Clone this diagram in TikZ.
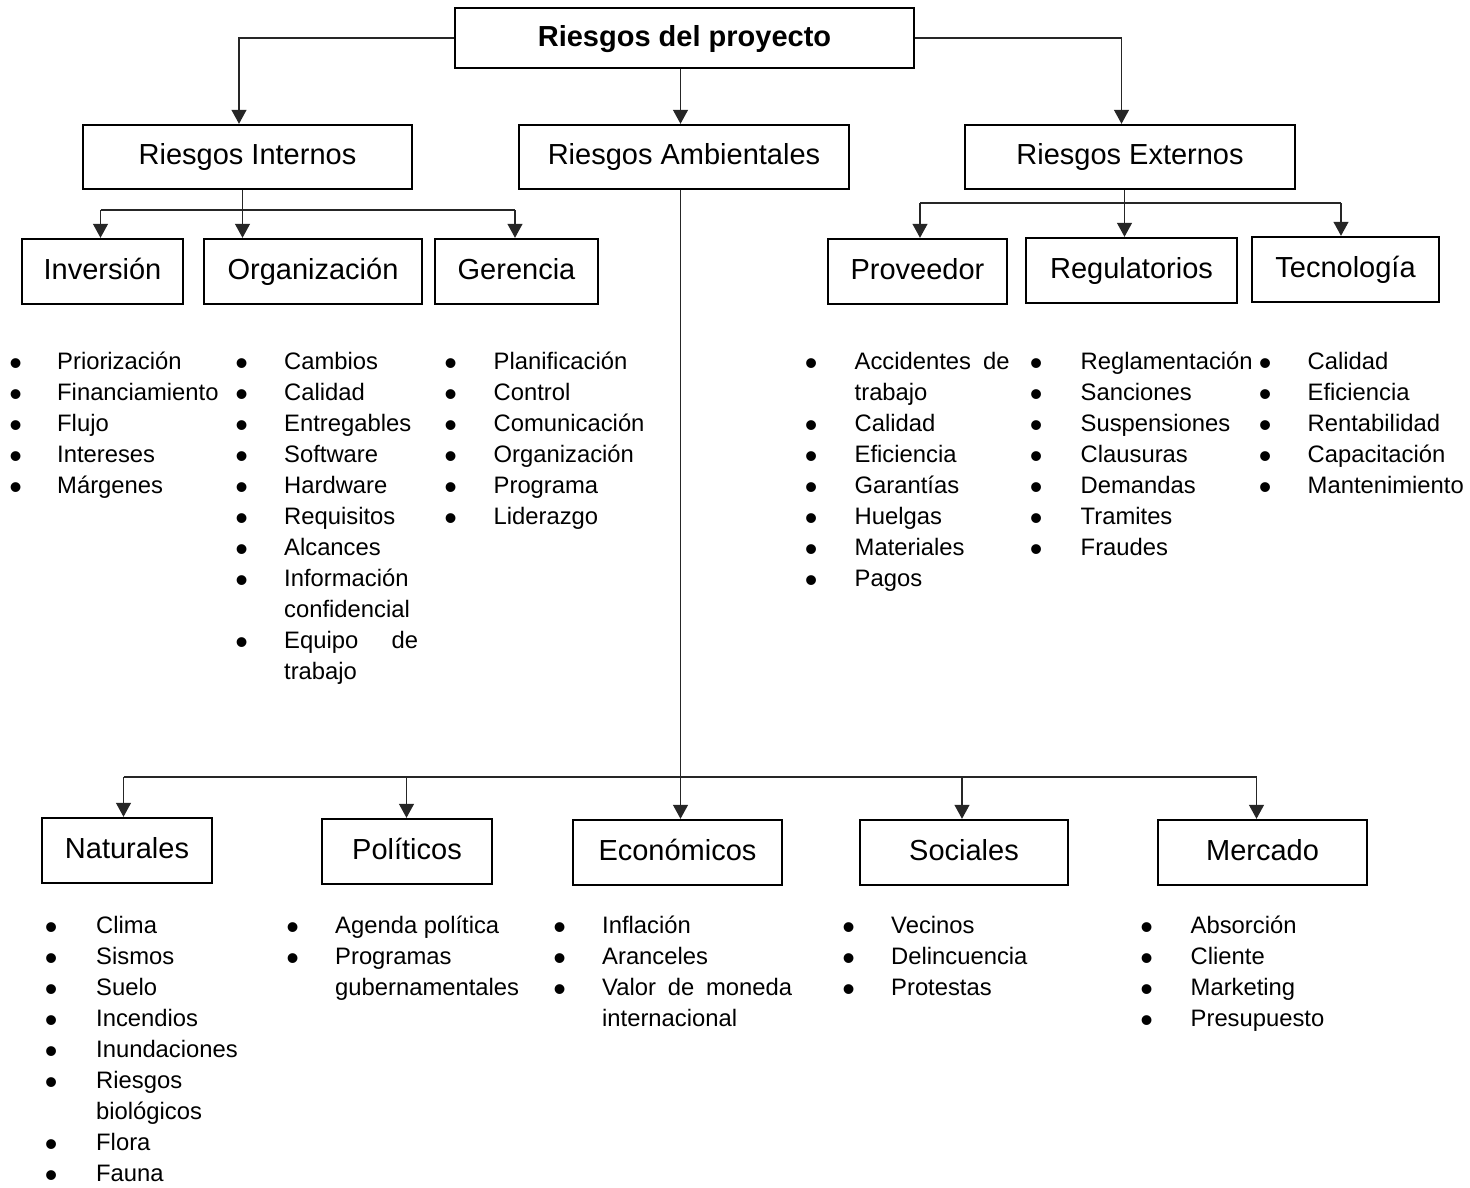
\documentclass[tikz,border=0pt]{standalone}
\usepackage{fontspec}
\setmainfont{Liberation Sans}
\usetikzlibrary{arrows.meta}

% bullet lists: a bullet centred at the node origin, text \bgap to the right
\newlength\bgap
\newcommand\bul{\makebox[0pt][c]{\raisebox{-6.5pt}{\fontsize{36}{36}\selectfont •}}\hspace{\bgap}}
\newcommand\cont{\hspace{\bgap}}
\newcommand\risklist[2]{\setlength\bgap{#1}\begin{tabular}[t]{@{}l@{}}#2\end{tabular}}

\tikzset{
  box/.style={draw=black, line width=2.4pt, inner sep=0pt,
    font=\fontsize{29}{34}\selectfont, text height=21pt, text depth=6pt},
  link/.style={draw=black!85, line width=1.2pt},
  arr/.style={link, -{Triangle[length=14pt,width=15pt]}},
  lst/.style={anchor=base west, inner sep=0pt,
    font=\fontsize{23.8}{31}\selectfont},
}

\begin{document}
\begin{tikzpicture}[x=1pt,y=-1pt]
\useasboundingbox[fill=white] (0,0) rectangle (1470,1188);

% ---- boxes ----
\node[box, font=\fontsize{29}{34}\selectfont\bfseries, minimum width=459, minimum height=60] (top) at (684.5,38) {\raisebox{-1.5pt}{Riesgos del proyecto}};

\node[box, minimum width=329, minimum height=64] (int) at (247.5,157) {Riesgos Internos};
\node[box, minimum width=330, minimum height=64] (amb) at (684,157) {Riesgos Ambientales};
\node[box, minimum width=330, minimum height=64] (ext) at (1130,157) {Riesgos Externos};

\node[box, minimum width=161, minimum height=65] (inv) at (102.5,271.5) {Inversión};
\node[box, minimum width=218, minimum height=65] (org) at (313,271.5) {Organización};
\node[box, minimum width=163, minimum height=65] (ger) at (516.5,271.5) {Gerencia};

\node[box, minimum width=179, minimum height=65] (pro) at (917.5,271.5) {Proveedor};
\node[box, minimum width=211, minimum height=65] (reg) at (1131.5,270.5) {Regulatorios};
\node[box, minimum width=187, minimum height=65] (tec) at (1345.5,269.5) {Tecnología};

\node[box, minimum width=170, minimum height=65] (nat) at (127,850.5) {Naturales};
\node[box, minimum width=170, minimum height=65] (pol) at (407,851.5) {Políticos};
\node[box, minimum width=209, minimum height=65] (eco) at (677.5,852.5) {Económicos};
\node[box, minimum width=208, minimum height=65] (soc) at (964,852.5) {Sociales};
\node[box, minimum width=209, minimum height=65] (mer) at (1262.5,852.5) {Mercado};

% ---- connector positions ----
\coordinate (xint) at (239,0);
\coordinate (xamb) at (680.5,0);
\coordinate (xext) at (1121.5,0);
\coordinate (fint) at (0,210);
\coordinate (xio)  at (242.5,0);
\coordinate (xinv) at (100.5,0);
\coordinate (xger) at (515,0);
\coordinate (fext) at (0,203);
\coordinate (xpro) at (920,0);
\coordinate (xreg) at (1124.5,0);
\coordinate (xtec) at (1341,0);
\coordinate (famb) at (0,777);
\coordinate (xnat) at (123.5,0);
\coordinate (xpol) at (406.5,0);
\coordinate (xsoc) at (962,0);
\coordinate (xmer) at (1256.5,0);

% top level
\draw[arr] (top.west) -| (int.north -| xint);
\draw[arr] (top.south -| xamb) -- (amb.north -| xamb);
\draw[arr] (top.east) -| (ext.north -| xext);

% internal risks
\draw[arr] (int.south -| xio) -- (org.north -| xio);
\draw[link] (fint -| xinv) -- (fint -| xger);
\draw[arr] (fint -| xinv) -- (inv.north -| xinv);
\draw[arr] (fint -| xger) -- (ger.north -| xger);

% external risks
\draw[arr] (ext.south -| xreg) -- (reg.north -| xreg);
\draw[link] (fext -| xpro) -- (fext -| xtec);
\draw[arr] (fext -| xpro) -- (pro.north -| xpro);
\draw[arr] (fext -| xtec) -- (tec.north -| xtec);

% environmental risks
\draw[arr] (amb.south -| xamb) -- (eco.north -| xamb);
\draw[link] (famb -| xnat) -- (famb -| xmer);
\draw[arr] (famb -| xnat) -- (nat.north -| xnat);
\draw[arr] (famb -| xpol) -- (pol.north -| xpol);
\draw[arr] (famb -| xsoc) -- (soc.north -| xsoc);
\draw[arr] (famb -| xmer) -- (mer.north -| xmer);

% ---- lists ----
\node[lst] (linv) at (15.5,369) {\risklist{41.5pt}{%
  \bul Priorización\\ \bul Financiamiento\\ \bul Flujo\\ \bul Intereses\\ \bul Márgenes}};
\node[lst] (lorg) at (241.5,369) {\risklist{42.5pt}{%
  \bul Cambios\\ \bul Calidad\\ \bul Entregables\\ \bul Software\\ \bul Hardware\\
  \bul Requisitos\\ \bul Alcances\\ \bul Información\\ \cont confidencial\\
  \bul \makebox[134pt][s]{Equipo de}\\ \cont trabajo}};
\node[lst] (lger) at (450.5,369) {\risklist{43pt}{%
  \bul Planificación\\ \bul Control\\ \bul Comunicación\\ \bul Organización\\
  \bul Programa\\ \bul Liderazgo}};

\node[lst] (lpro) at (811,369) {\risklist{43.5pt}{%
  \bul \makebox[155pt][s]{Accidentes de}\\ \cont trabajo\\ \bul Calidad\\ \bul Eficiencia\\
  \bul Garantías\\ \bul Huelgas\\ \bul Materiales\\ \bul Pagos}};
\node[lst] (lreg) at (1036,369) {\risklist{44.5pt}{%
  \bul Reglamentación\\ \bul Sanciones\\ \bul Suspensiones\\ \bul Clausuras\\
  \bul Demandas\\ \bul Tramites\\ \bul Fraudes}};
\node[lst] (ltec) at (1265,369) {\risklist{42.5pt}{%
  \bul Calidad\\ \bul Eficiencia\\ \bul Rentabilidad\\ \bul Capacitación\\ \bul Mantenimiento}};

\node[lst] (lnat) at (51,933) {\risklist{45pt}{%
  \bul Clima\\ \bul Sismos\\ \bul Suelo\\ \bul Incendios\\ \bul Inundaciones\\
  \bul Riesgos\\ \cont biológicos\\ \bul Flora\\ \bul Fauna}};
\node[lst] (lpol) at (292.5,933) {\risklist{42.5pt}{%
  \bul Agenda política\\ \bul Programas\\ \cont gubernamentales}};
\node[lst] (leco) at (559.5,933) {\risklist{42.5pt}{%
  \bul Inflación\\ \bul Aranceles\\ \bul \makebox[190pt][s]{Valor de moneda}\\ \cont internacional}};
\node[lst] (lsoc) at (848.5,933) {\risklist{42.5pt}{%
  \bul Vecinos\\ \bul Delincuencia\\ \bul Protestas}};
\node[lst] (lmer) at (1146.5,933) {\risklist{44pt}{%
  \bul Absorción\\ \bul Cliente\\ \bul Marketing\\ \bul Presupuesto}};
\end{tikzpicture}
\end{document}
